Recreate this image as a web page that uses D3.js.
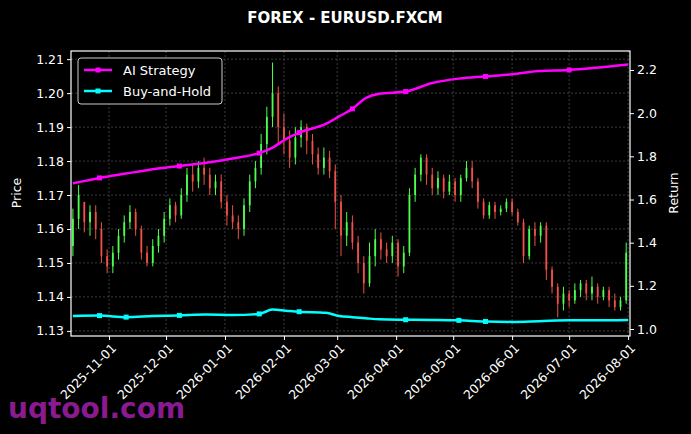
<!DOCTYPE html>
<html><head><meta charset="utf-8">
<script src="https://cdn.jsdelivr.net/npm/d3@7"></script>
<style>body{margin:0;background:#000}svg{display:block;font-family:"DejaVu Sans",sans-serif}</style>
</head><body><svg id="c" width="691" height="434"></svg>
<script>
const dates=["2025-10-13","2025-10-16","2025-10-19","2025-10-22","2025-10-25","2025-10-28","2025-10-31",
"2025-11-03","2025-11-06","2025-11-09","2025-11-12","2025-11-15","2025-11-18","2025-11-21","2025-11-24","2025-11-27","2025-11-30",
"2025-12-03","2025-12-06","2025-12-09","2025-12-12","2025-12-15","2025-12-18","2025-12-21","2025-12-24","2025-12-27","2025-12-30",
"2026-01-02","2026-01-05","2026-01-08","2026-01-11","2026-01-14","2026-01-17","2026-01-20","2026-01-23","2026-01-26","2026-01-29",
"2026-02-01","2026-02-04","2026-02-07","2026-02-10","2026-02-13","2026-02-16","2026-02-19","2026-02-22","2026-02-25","2026-02-28",
"2026-03-03","2026-03-06","2026-03-09","2026-03-12","2026-03-15","2026-03-18","2026-03-21","2026-03-24","2026-03-27","2026-03-30",
"2026-04-02","2026-04-05","2026-04-08","2026-04-11","2026-04-14","2026-04-17","2026-04-20","2026-04-23","2026-04-26","2026-04-29",
"2026-05-02","2026-05-05","2026-05-08","2026-05-11","2026-05-14","2026-05-17","2026-05-20","2026-05-23","2026-05-26","2026-05-29",
"2026-06-01","2026-06-04","2026-06-07","2026-06-10","2026-06-13","2026-06-16","2026-06-19","2026-06-22","2026-06-25","2026-06-28",
"2026-07-01","2026-07-04","2026-07-07","2026-07-10","2026-07-13","2026-07-16","2026-07-19","2026-07-22","2026-07-25","2026-07-28","2026-07-31"];
const open=[1.155,1.163,1.168,1.162,1.165,1.160,1.152,
1.149,1.153,1.158,1.162,1.165,1.160,1.153,1.150,1.155,1.158,
1.163,1.167,1.164,1.170,1.176,1.174,1.178,1.176,1.172,1.174,
1.168,1.164,1.162,1.160,1.167,1.174,1.178,1.185,1.193,1.200,
1.190,1.186,1.181,1.187,1.190,1.186,1.182,1.178,1.181,1.177,
1.168,1.158,1.162,1.156,1.150,1.144,1.152,1.157,1.154,1.152,
1.156,1.149,1.153,1.170,1.176,1.181,1.176,1.172,1.175,1.171,
1.174,1.170,1.175,1.178,1.174,1.168,1.164,1.167,1.165,1.166,
1.168,1.165,1.162,1.152,1.160,1.158,1.161,1.148,1.143,1.138,
1.141,1.139,1.142,1.144,1.141,1.143,1.140,1.142,1.139,1.137,1.139];
const close=[1.163,1.170,1.162,1.165,1.160,1.152,1.149,
1.153,1.158,1.162,1.165,1.160,1.153,1.150,1.155,1.158,1.163,
1.167,1.164,1.170,1.176,1.174,1.178,1.176,1.172,1.174,1.168,
1.164,1.162,1.160,1.167,1.174,1.178,1.185,1.193,1.200,1.190,
1.186,1.181,1.187,1.190,1.186,1.182,1.178,1.181,1.177,1.168,
1.158,1.162,1.156,1.150,1.144,1.152,1.157,1.154,1.152,1.156,
1.149,1.153,1.170,1.176,1.181,1.176,1.172,1.175,1.171,1.174,
1.170,1.175,1.178,1.174,1.168,1.164,1.167,1.165,1.166,1.168,
1.165,1.162,1.152,1.160,1.158,1.161,1.148,1.143,1.138,1.141,
1.139,1.142,1.144,1.141,1.143,1.140,1.142,1.139,1.137,1.139,1.153];
const high=[1.166,1.173,1.167,1.167,1.167,1.162,1.154,
1.155,1.160,1.164,1.167,1.166,1.161,1.155,1.157,1.160,1.165,
1.169,1.168,1.172,1.178,1.179,1.180,1.181,1.178,1.176,1.176,
1.170,1.167,1.164,1.169,1.176,1.180,1.188,1.196,1.209,1.202,
1.194,1.189,1.190,1.192,1.191,1.188,1.184,1.184,1.183,1.179,
1.170,1.165,1.164,1.158,1.152,1.156,1.160,1.159,1.156,1.158,
1.157,1.155,1.172,1.178,1.182,1.182,1.178,1.177,1.176,1.176,
1.175,1.176,1.180,1.180,1.175,1.169,1.168,1.168,1.167,1.169,
1.169,1.166,1.163,1.161,1.162,1.162,1.162,1.149,1.144,1.143,
1.142,1.144,1.145,1.145,1.146,1.144,1.143,1.143,1.141,1.140,1.156];
const low=[1.152,1.160,1.159,1.158,1.157,1.150,1.147,
1.147,1.151,1.156,1.160,1.158,1.151,1.149,1.149,1.153,1.156,
1.161,1.162,1.163,1.168,1.171,1.172,1.173,1.170,1.170,1.166,
1.161,1.160,1.157,1.158,1.165,1.172,1.176,1.182,1.190,1.185,
1.182,1.178,1.179,1.184,1.182,1.179,1.176,1.176,1.175,1.160,
1.152,1.155,1.154,1.147,1.141,1.143,1.149,1.151,1.150,1.150,
1.146,1.147,1.152,1.168,1.174,1.173,1.170,1.170,1.169,1.170,
1.168,1.168,1.174,1.172,1.166,1.163,1.163,1.163,1.164,1.165,
1.164,1.161,1.150,1.151,1.155,1.156,1.145,1.141,1.134,1.136,
1.137,1.138,1.140,1.139,1.139,1.138,1.139,1.137,1.136,1.136,1.138];
const retDates=["2025-10-13","2025-10-27","2025-11-10","2025-11-24","2025-12-08","2025-12-22","2026-01-05","2026-01-19","2026-01-26",
"2026-02-02","2026-02-09","2026-02-23","2026-03-02","2026-03-09","2026-03-16","2026-03-23","2026-04-06","2026-04-20","2026-05-04",
"2026-05-18","2026-06-01","2026-06-15","2026-07-01","2026-07-15","2026-08-01"];
const aiReturn=[1.675,1.70,1.72,1.74,1.755,1.77,1.79,1.815,1.84,1.88,1.91,1.95,1.985,2.02,2.07,2.09,2.10,2.14,2.16,2.17,2.18,2.195,2.20,2.21,2.225];
const bhReturn=[1.06,1.062,1.055,1.06,1.063,1.067,1.065,1.07,1.09,1.085,1.08,1.075,1.06,1.055,1.05,1.045,1.043,1.042,1.04,1.035,1.033,1.036,1.04,1.04,1.042];
const priceTicks=[1.13,1.14,1.15,1.16,1.17,1.18,1.19,1.20,1.21];
const returnTicks=[1.0,1.2,1.4,1.6,1.8,2.0,2.2];
const xTicks=["2025-11-01","2025-12-01","2026-01-01","2026-02-01","2026-03-01","2026-04-01","2026-05-01","2026-06-01","2026-07-01","2026-08-01"];

const P=d3.utcParse("%Y-%m-%d");
const svg=d3.select("#c");
const L=71,R=630,T=51,B=336;
const x=d3.scaleUtc().domain([P("2025-10-12"),P("2026-08-02")]).range([L,R]);
const y=d3.scaleLinear().domain([1.1285,1.2124]).range([B,T]);
const y2=d3.scaleLinear().domain([0.9676,2.288]).range([B,T]);
const g=svg.append("g");
g.selectAll(".gy").data(priceTicks).join("line").attr("x1",L).attr("x2",R).attr("y1",d=>y(d)).attr("y2",d=>y(d))
 .attr("stroke","#555").attr("stroke-dasharray","2,2").attr("stroke-width",0.7);
g.selectAll(".gx").data(xTicks).join("line").attr("x1",d=>x(P(d))).attr("x2",d=>x(P(d))).attr("y1",T).attr("y2",B)
 .attr("stroke","#555").attr("stroke-dasharray","2,2").attr("stroke-width",0.7);
const cd=dates.map((d,i)=>({d:P(d),o:open[i],c:close[i],h:high[i],l:low[i]}));
const col=d=>d.c>=d.o?"#4dff4d":"#f0504a";
g.selectAll(".w").data(cd).join("line").attr("x1",d=>x(d.d)).attr("x2",d=>x(d.d)).attr("y1",d=>y(d.h)).attr("y2",d=>y(d.l))
 .attr("stroke",col).attr("stroke-width",1);
g.selectAll(".b").data(cd).join("rect").attr("x",d=>x(d.d)-0.9).attr("width",1.8)
 .attr("y",d=>y(Math.max(d.o,d.c))).attr("height",d=>Math.max(1,Math.abs(y(d.o)-y(d.c)))).attr("fill",col);
const line=d3.line().x((d,i)=>x(P(retDates[i]))).y(d=>y2(d)).curve(d3.curveMonotoneX);
[[aiReturn,"#ff00ff"],[bhReturn,"#00ffff"]].forEach(([s,c])=>{
 g.append("path").datum(s).attr("d",line).attr("fill","none").attr("stroke",c).attr("stroke-width",2.5);
 g.selectAll(null).data(s.filter((_,i)=>i%3==1)).join("rect")
  .attr("x",(d)=>x(P(retDates[s.indexOf(d)]))-2.5).attr("y",d=>y2(d)-2.5).attr("width",5).attr("height",5).attr("fill",c);
});
svg.append("rect").attr("x",L).attr("y",T).attr("width",R-L).attr("height",B-T).attr("fill","none").attr("stroke","#fff").attr("stroke-width",1.2);
const ax1=svg.append("g").attr("transform",`translate(${L},0)`).call(d3.axisLeft(y).tickValues(priceTicks).tickFormat(d3.format(".2f")).tickSize(4));
const ax2=svg.append("g").attr("transform",`translate(${R},0)`).call(d3.axisRight(y2).tickValues(returnTicks).tickFormat(d3.format(".1f")).tickSize(4));
const ax3=svg.append("g").attr("transform",`translate(0,${B})`).call(d3.axisBottom(x).tickValues(xTicks.map(P)).tickFormat(d3.utcFormat("%Y-%m-%d")).tickSize(4));
[ax1,ax2,ax3].forEach(a=>{a.select(".domain").remove();a.selectAll("line").attr("stroke","#fff");a.selectAll("text").attr("fill","#fff").style("font-size","12.5px").style("font-family","DejaVu Sans");});
ax3.selectAll("text").attr("text-anchor","end").attr("transform","rotate(-45)").attr("dx","-0.3em").attr("dy","0.6em");
svg.append("text").attr("x",345).attr("y",23).attr("text-anchor","middle").attr("fill","#fff").attr("font-weight","bold").style("font-size","15px").text("FOREX - EURUSD.FXCM");
svg.append("text").attr("transform","translate(21,193) rotate(-90)").attr("text-anchor","middle").attr("fill","#fff").style("font-size","12.5px").text("Price");
svg.append("text").attr("transform","translate(678,193) rotate(-90)").attr("text-anchor","middle").attr("fill","#fff").style("font-size","12.5px").text("Return");
const lg=svg.append("g");
lg.append("rect").attr("x",78).attr("y",58).attr("width",144).attr("height",46).attr("rx",3).attr("fill","#000").attr("stroke","#ccc");
[["AI Strategy","#ff00ff"],["Buy-and-Hold","#00ffff"]].forEach(([t,c],i)=>{
 const yy=70+i*21;
 lg.append("line").attr("x1",84).attr("x2",112).attr("y1",yy).attr("y2",yy).attr("stroke",c).attr("stroke-width",2.5);
 lg.append("rect").attr("x",95.5).attr("y",yy-2.5).attr("width",5).attr("height",5).attr("fill",c);
 lg.append("text").attr("x",123).attr("y",yy+4.5).attr("fill","#fff").style("font-size","13px").text(t);
});
svg.append("text").attr("x",8).attr("y",418).attr("fill","#8a1a8f").attr("font-weight","bold").style("font-size","28px").text("uqtool.com");
</script></body></html>
